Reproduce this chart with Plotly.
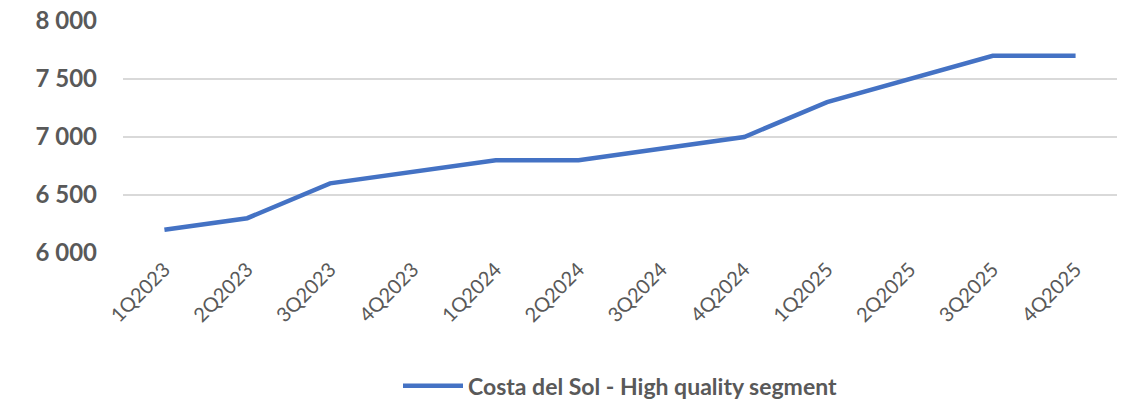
import plotly.graph_objects as go

quarters = ["1Q2023", "2Q2023", "3Q2023", "4Q2023", "1Q2024", "2Q2024",
            "3Q2024", "4Q2024", "1Q2025", "2Q2025", "3Q2025", "4Q2025"]
prices = [6200, 6300, 6600, 6700, 6800, 6800, 6900, 7000, 7300, 7500, 7700, 7700]
series_name = "Costa del Sol - High quality segment"
y_ticks = [6000, 6500, 7000, 7500, 8000]

grey = "#595959"

fig = go.Figure()
fig.add_trace(go.Scatter(
    x=quarters, y=prices, name=series_name, mode="lines",
    line=dict(color="#4472C4", width=4.5),
))

fig.update_layout(
    width=1129, height=409,
    margin=dict(l=123, r=12, t=20, b=156, autoexpand=False),
    paper_bgcolor="white", plot_bgcolor="white",
    separators=". ",
    showlegend=True,
    legend=dict(orientation="h", x=0.5, xanchor="center", y=-0.57, yanchor="middle",
                itemwidth=60,
                font=dict(family="Lato", size=23, color=grey, weight="bold")),
    xaxis=dict(type="category", tickangle=-45, showgrid=False, showline=False,
               ticks="", automargin=False,
               tickfont=dict(family="Lato", size=20, color=grey),
               range=[-0.5, 11.5]),
    yaxis=dict(range=[6000, 8008], tickmode="array", tickvals=y_ticks,
               tickformat=",", showgrid=True, ticklabeloverflow="allow",
               gridcolor="#D9D9D9", gridwidth=1.5, zeroline=False, ticks="",
               automargin=False, ticklabelstandoff=25,
               tickfont=dict(family="Lato", size=24, color=grey, weight="bold")),
)

# drop the default page margin so the figure sits at the window's corner
fig.write_html("out.html", config={"displayModeBar": False},
               post_script="document.body.style.margin='0';")
